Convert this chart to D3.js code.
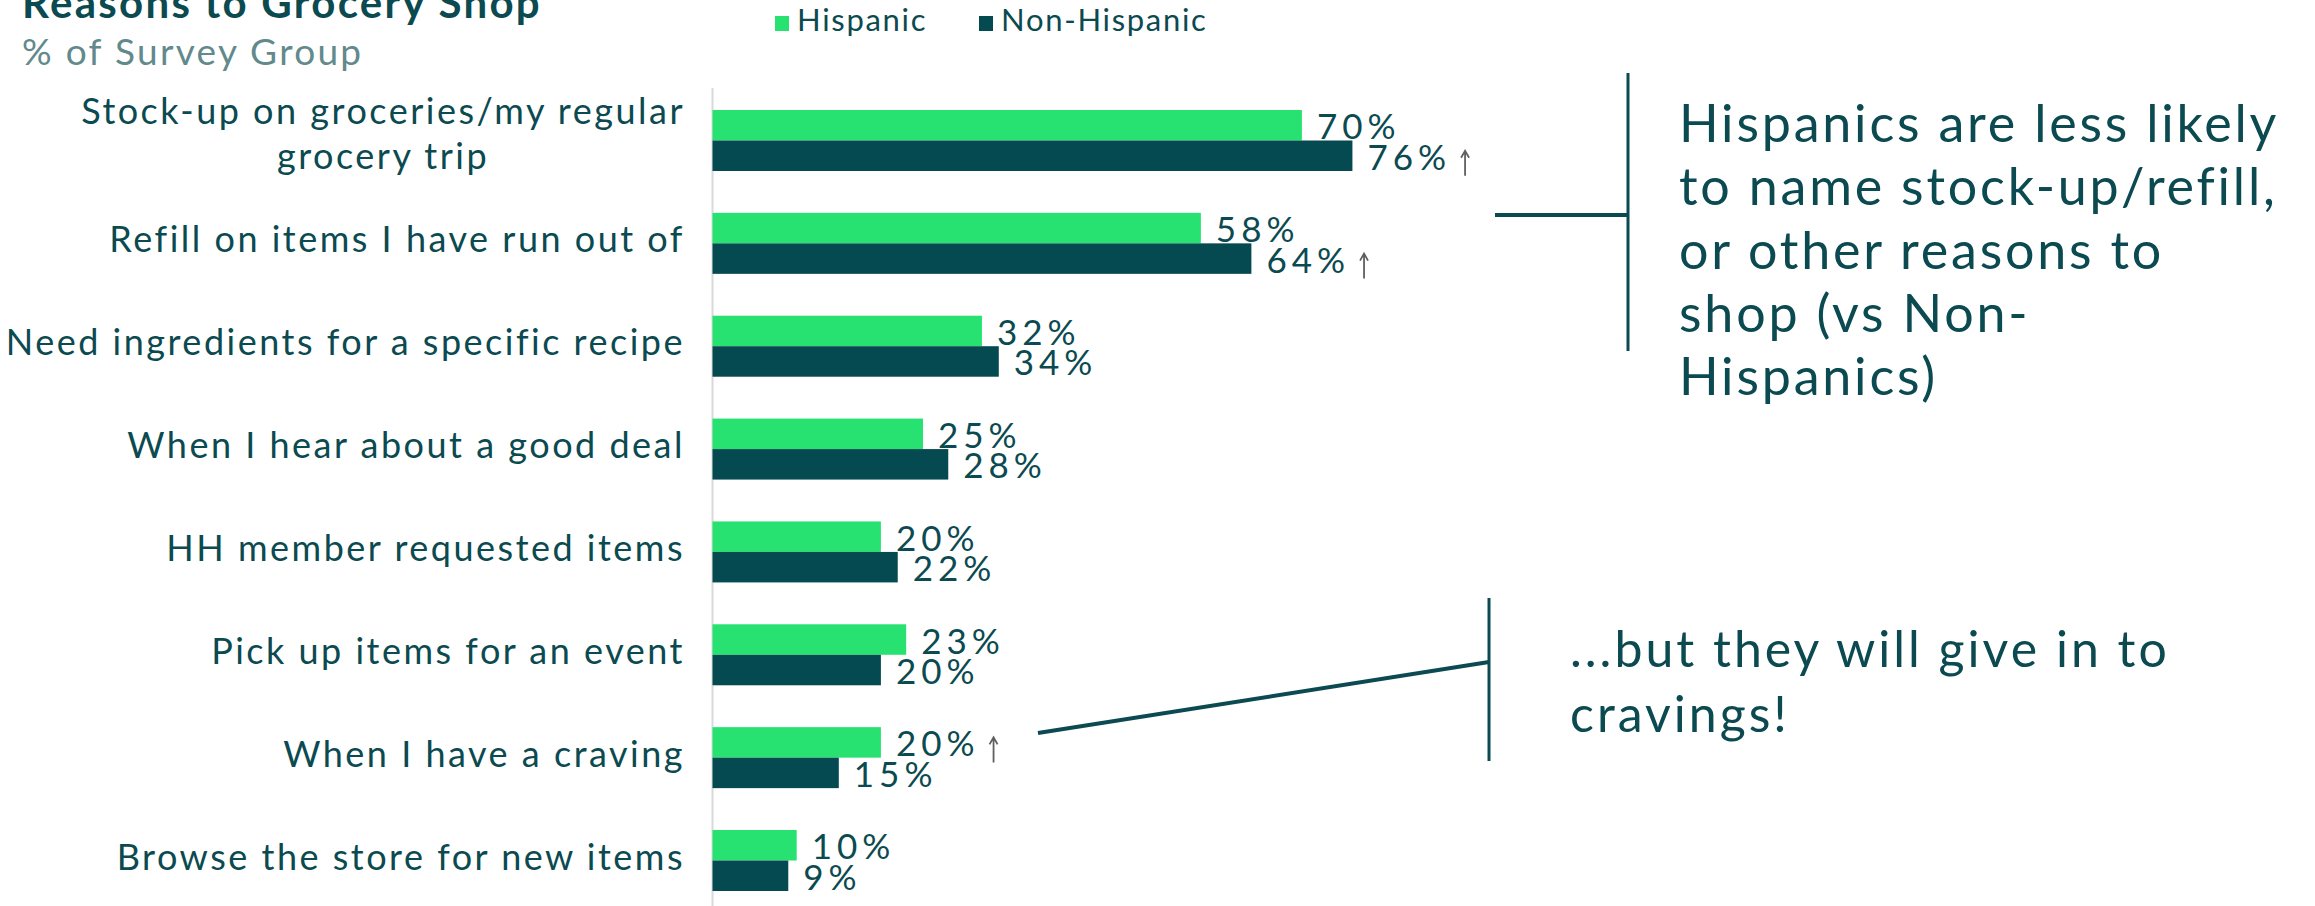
<!DOCTYPE html>
<html>
<head>
<meta charset="utf-8">
<script src="https://cdn.jsdelivr.net/npm/d3@7"></script>
<style>
  body { margin: 0; background: #ffffff; }
  svg { display: block; }
  text { font-family: Lato, "Open Sans", sans-serif; }
</style>
</head>
<body>
<svg id="chart" width="2315" height="906"></svg>
<script>
// Survey answers: share of each group naming the reason (%)
const categories = [
  "Stock-up on groceries/my regular\ngrocery trip",
  "Refill on items I have run out of",
  "Need ingredients for a specific recipe",
  "When I hear about a good deal",
  "HH member requested items",
  "Pick up items for an event",
  "When I have a craving",
  "Browse the store for new items"
];
const seriesNames = ["Hispanic", "Non-Hispanic"];
const hispanic    = [70, 58, 32, 25, 20, 23, 20, 10];
const nonHispanic = [76, 64, 34, 28, 22, 20, 15,  9];
// significantly higher than the other group
const hispanicUp    = [false, false, false, false, false, false, true, false];
const nonHispanicUp = [true,  true,  false, false, false, false, false, false];

const title = "Reasons to Grocery Shop";
const subtitle = "% of Survey Group";
const noteTop = ["Hispanics are less likely", "to name stock-up/refill,", "or other reasons to", "shop (vs Non-", "Hispanics)"];
const noteBottom = ["...but they will give in to", "cravings!"];

const colors = { "Hispanic": "#27e271", "Non-Hispanic": "#064a51" };
const ink = "#0b4a50";

const svg = d3.select("#chart");

const rows = categories.map((c, i) => ({
  category: c,
  values: [
    { series: "Hispanic", value: hispanic[i], up: hispanicUp[i] },
    { series: "Non-Hispanic", value: nonHispanic[i], up: nonHispanicUp[i] }
  ]
}));

const x = d3.scaleLinear().domain([0, 100]).range([712.5, 1554.5]);
const y = d3.scaleBand().domain(categories).range([110, 891]).paddingInner(0.407).paddingOuter(0);
const ySub = d3.scaleBand().domain(seriesNames).range([0, y.bandwidth()]);

// title block
svg.append("text").attr("x", 22).attr("y", 18)
  .attr("font-size", 42).attr("font-weight", 700).attr("letter-spacing", 2.3)
  .attr("fill", ink).text(title);
svg.append("text").attr("x", 22).attr("y", 65)
  .attr("font-size", 37).attr("letter-spacing", 2.3)
  .attr("fill", "#62898b").text(subtitle);

// legend
const legendX = [775, 979];
const legend = svg.append("g").selectAll("g").data(seriesNames).join("g")
  .attr("transform", (d, i) => `translate(${legendX[i]},0)`);
legend.append("rect").attr("x", 0).attr("y", 16).attr("width", 14).attr("height", 15)
  .attr("fill", d => colors[d]);
legend.append("text").attr("x", 22).attr("y", 31).attr("font-size", 31)
  .attr("letter-spacing", 1.7).attr("fill", ink).text(d => d);

// category axis line and wrapped labels
svg.append("line").attr("x1", x(0)).attr("x2", x(0)).attr("y1", 88).attr("y2", 906)
  .attr("stroke", "#d9d9d9").attr("stroke-width", 2);

const axis = svg.append("g").attr("transform", `translate(${x(0)},0)`)
  .call(d3.axisLeft(y).tickSize(0).tickPadding(30).tickFormat(""));
axis.select(".domain").remove();

const labelSpacing = 2.5;
const labelRight = x(0) - 30 + labelSpacing;
const lineGap = 45;
svg.append("g").selectAll("text").data(categories).join("text")
  .attr("font-size", 36).attr("letter-spacing", labelSpacing).attr("fill", ink)
  .each(function (d) {
    const lines = d.split("\n");
    const t = d3.select(this);
    const cy = y(d) + y.bandwidth() / 2 + 9 - (lines.length - 1) * (lineGap / 2 + 3);
    lines.forEach((ln, k) => {
      t.append("tspan").attr("y", cy + k * lineGap).text(ln);
    });
    if (lines.length === 1) {
      t.attr("text-anchor", "end").selectAll("tspan").attr("x", labelRight);
    } else {
      let w = 0;
      t.selectAll("tspan").each(function () { w = Math.max(w, this.getComputedTextLength()); });
      t.attr("text-anchor", "middle").selectAll("tspan").attr("x", labelRight - w / 2);
    }
  });

// bars
const groups = svg.append("g").selectAll("g").data(rows).join("g")
  .attr("transform", d => `translate(0,${y(d.category)})`);

groups.selectAll("rect").data(d => d.values).join("rect")
  .attr("x", x(0))
  .attr("y", d => ySub(d.series))
  .attr("width", d => x(d.value) - x(0))
  .attr("height", ySub.bandwidth())
  .attr("fill", d => colors[d.series]);

// value labels with significance arrows
const valueSpacing = 5;
groups.selectAll("g.val").data(d => d.values).join("g").attr("class", "val")
  .each(function (d) {
    const g = d3.select(this);
    const bx = x(d.value) + 15;
    const by = ySub(d.series) + ySub.bandwidth() / 2 + 14;
    const t = g.append("text").attr("x", bx).attr("y", by)
      .attr("font-size", 35).attr("letter-spacing", valueSpacing)
      .attr("fill", ink).text(d.value + "%");
    if (d.up) {
      const ax = bx + t.node().getComputedTextLength() - valueSpacing + 19;
      g.append("path")
        .attr("d", `M${ax},${by + 6}V${by - 18}M${ax - 4},${by - 12}L${ax},${by - 19}L${ax + 4},${by - 12}`)
        .attr("fill", "none").attr("stroke", "#5f5f5f").attr("stroke-width", 1.8);
    }
  });

// call-out: stock-up / refill
const notes = svg.append("g").attr("stroke", ink).attr("fill", "none");
notes.append("line").attr("x1", 1628).attr("x2", 1628).attr("y1", 73).attr("y2", 351).attr("stroke-width", 3);
notes.append("line").attr("x1", 1495).attr("x2", 1628).attr("y1", 215).attr("y2", 215).attr("stroke-width", 4);

svg.append("text").attr("font-size", 52).attr("letter-spacing", 2.8).attr("fill", ink)
  .selectAll("tspan").data(noteTop).join("tspan")
  .attr("x", 1679).attr("y", (d, i) => 142 + i * 63.3).text(d => d);

// call-out: cravings
notes.append("line").attr("x1", 1489).attr("x2", 1489).attr("y1", 598).attr("y2", 761).attr("stroke-width", 3);
notes.append("line").attr("x1", 1038).attr("x2", 1489).attr("y1", 733).attr("y2", 662).attr("stroke-width", 4);

svg.append("text").attr("font-size", 50).attr("letter-spacing", 3).attr("fill", ink)
  .selectAll("tspan").data(noteBottom).join("tspan")
  .attr("x", 1570).attr("y", (d, i) => 667 + i * 64.5).text(d => d);
</script>
</body>
</html>
